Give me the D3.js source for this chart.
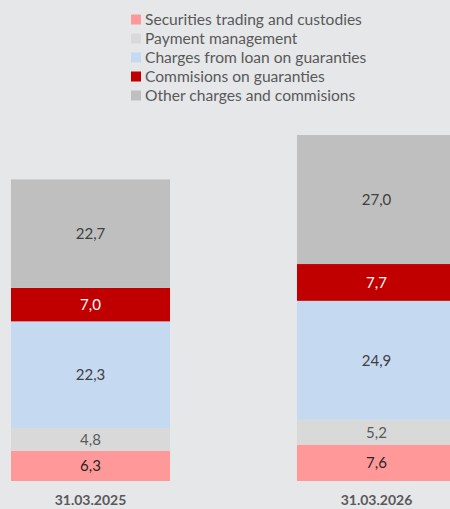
<!DOCTYPE html>
<html>
<head>
<meta charset="utf-8">
<script src="https://cdn.jsdelivr.net/npm/d3@7"></script>
<style>
  body { margin: 0; background: #e6e7e9; }
  svg { display: block; font-family: Lato, "Open Sans", sans-serif; }
</style>
</head>
<body>
<div id="chart"></div>
<script>
// data
var categories = ['31.03.2025', '31.03.2026'];
var seriesNames = ['Securities trading and custodies', 'Payment management',
    'Charges from loan on guaranties', 'Commisions on guaranties', 'Other charges and commisions'];
var securities = [6.3, 7.6];
var payment = [4.8, 5.2];
var loanCharges = [22.3, 24.9];
var guarantyComm = [7.0, 7.7];
var otherCharges = [22.7, 27.0];
var colors = ['#ff9999', '#d9d9d9', '#c5d9f0', '#c00000', '#bfbfbf'];
var labelColors = ['#262626', '#595959', '#404040', '#ffffff', '#404040'];

(function() {
    var width = 450, height = 509;
    var svg = d3.select('#chart').append('svg')
        .attr('width', width)
        .attr('height', height);

    var rows = categories.map(function(c, i) {
        return { cat: c, s0: securities[i], s1: payment[i], s2: loanCharges[i], s3: guarantyComm[i], s4: otherCharges[i] };
    });
    var keys = ['s0', 's1', 's2', 's3', 's4'];
    var stacked = d3.stack().keys(keys)(rows);

    // bars 159px wide: 11 -> 170 and 297 -> 456 (second one runs off the edge)
    var x = d3.scaleBand().domain(categories).range([11, 456]).paddingInner(0.444).paddingOuter(0);
    var y = d3.scaleLinear().domain([0, 72.4]).range([481, 135]);

    var layer = svg.selectAll('g.layer').data(stacked).enter().append('g')
        .attr('class', 'layer')
        .attr('fill', function(d, i) { return colors[i]; });

    layer.selectAll('rect').data(function(d) { return d; }).enter().append('rect')
        .attr('x', function(d) { return x(d.data.cat); })
        .attr('width', x.bandwidth())
        .attr('y', function(d) { return y(d[1]); })
        .attr('height', function(d) { return y(d[0]) - y(d[1]); });

    layer.selectAll('text').data(function(d) { return d; }).enter().append('text')
        .attr('x', function(d) { return x(d.data.cat) + x.bandwidth() / 2; })
        .attr('y', function(d) { return (y(d[0]) + y(d[1])) / 2; })
        .attr('dy', '0.35em')
        .attr('text-anchor', 'middle')
        .attr('font-size', 15)
        .attr('fill', function(d) { return labelColors[keys.indexOf(this.parentNode.__data__.key)]; })
        .text(function(d) { return d3.format('.1f')(d[1] - d[0]).replace('.', ','); });

    // category axis labels
    svg.selectAll('text.cat').data(categories).enter().append('text')
        .attr('class', 'cat')
        .attr('x', function(d) { return x(d) + x.bandwidth() / 2; })
        .attr('y', 500)
        .attr('dy', '0.35em')
        .attr('text-anchor', 'middle')
        .attr('font-size', 14)
        .attr('font-weight', 'bold')
        .attr('fill', '#595959')
        .text(function(d) { return d; });

    // legend
    var legend = svg.append('g').attr('transform', 'translate(131,19.5)');
    var item = legend.selectAll('g').data(seriesNames).enter().append('g')
        .attr('transform', function(d, i) { return 'translate(0,' + (i * 19) + ')'; });
    item.append('rect')
        .attr('x', 0).attr('y', -5)
        .attr('width', 10).attr('height', 10)
        .attr('fill', function(d, i) { return colors[i]; });
    item.append('text')
        .attr('x', 14)
        .attr('dy', '0.35em')
        .attr('font-size', 15.6)
        .attr('fill', '#595959')
        .text(function(d) { return d; });
})();
</script>
</body>
</html>
